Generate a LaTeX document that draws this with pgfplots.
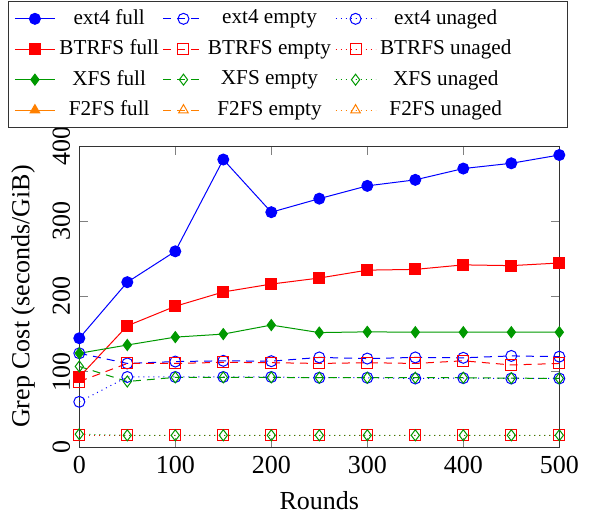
\documentclass[border=0pt]{standalone}
\usepackage{fontspec}
\setmainfont{Liberation Serif}
\usepackage{pgfplots}
\pgfplotsset{compat=1.18}
\definecolor{cblue}{rgb}{0,0,1}
\definecolor{cred}{rgb}{1,0,0}
\definecolor{cgreen}{rgb}{0,0.6,0}
\definecolor{corange}{rgb}{1,0.5,0}
\begin{document}
\fontsize{13}{15.5}\selectfont
\begin{tikzpicture}
\begin{axis}[
  scale only axis, width=240pt, height=150.5pt,
  xmin=0, xmax=500, ymin=0, ymax=400,
  xtick={0,100,...,500}, ytick={0,100,...,400},
  clip=false,
  /pgf/number format/assume math mode=true,
  yticklabel style={rotate=90, anchor=south},
  tick style={gray, thin},
  axis line style={black!80},
  xlabel={Rounds}, ylabel={Grep Cost (seconds/GiB)},
  legend columns=3,
  legend cell align=center,
  legend image code/.code={\draw[mark repeat=2,mark phase=2] plot coordinates {(0pt,0pt)(10pt,0pt)(20pt,0pt)};},
  legend style={font=\fontsize{10.6}{12.7}\selectfont, row sep=1.8pt, at={(rel axis cs:-0.1485,1.06)}, anchor=south west, draw=black!80},
  every axis plot/.append style={mark size=2.75pt, line width=0.5pt},
  dsh/.style={dash pattern=on 4pt off 3pt},
  dot/.style={dash pattern=on 0.5pt off 2pt},
]
% ext4
\addplot[cblue, mark=*] coordinates {(0,144.5)(50,219)(100,260)(150,382)(200,312)(250,330)(300,347)(350,355)(400,370)(450,377)(500,388)};
\addlegendentry{ext4 full}
\addplot[cblue, dsh, mark=o, mark options={solid}] coordinates {(0,124.5)(50,111)(100,113.5)(150,114.5)(200,114)(250,119)(300,117.5)(350,119)(400,118.5)(450,121)(500,120)};
\addlegendentry{ext4 empty}
\addplot[cblue, dot, mark=o, mark options={solid}] coordinates {(0,60)(50,93)(100,93)(150,93)(200,93)(250,92)(300,92)(350,91)(400,91.5)(450,91)(500,91)};
\addlegendentry{ext4 unaged\kern23pt}
% BTRFS
\addplot[cred, mark=square*] coordinates {(0,93)(50,161)(100,187)(150,206)(200,216.5)(250,224.5)(300,235)(350,236)(400,242)(450,241)(500,244.5)};
\addlegendentry{BTRFS full}
\addplot[cred, dsh, mark=square, mark options={solid}] coordinates {(0,87)(50,111)(100,111)(150,112.5)(200,112)(250,111)(300,112)(350,111)(400,114.5)(450,109)(500,111)};
\addlegendentry{BTRFS empty}
\addplot[cred, dot, mark=square, mark options={solid}] coordinates {(0,15.5)(50,15.5)(100,15.5)(150,15.5)(200,15.5)(250,15.5)(300,15.5)(350,15.5)(400,15.5)(450,15.5)(500,15.5)};
\addlegendentry{BTRFS unaged\kern23pt}
% XFS
\addplot[cgreen, mark=diamond*] coordinates {(0,124.5)(50,135.5)(100,146)(150,150)(200,162)(250,152)(300,153)(350,152.5)(400,152.5)(450,152.5)(500,152.5)};
\addlegendentry{XFS full}
\addplot[cgreen, dsh, mark=diamond, mark options={solid}] coordinates {(0,107)(50,87)(100,92.5)(150,92.5)(200,92.5)(250,92)(300,92)(350,92)(400,92)(450,91.5)(500,91)};
\addlegendentry{XFS empty}
\addplot[cgreen, dot, mark=diamond, mark options={solid}] coordinates {(0,17)(50,15.5)(100,15.5)(150,15.5)(200,15.5)(250,15.5)(300,15.5)(350,15.5)(400,15.5)(450,15.5)(500,15.5)};
\addlegendentry{XFS unaged\kern23pt}
% F2FS (legend only)
\addlegendimage{corange, mark=triangle*, mark size=2.75pt, line width=0.5pt}
\addlegendentry{F2FS full}
\addlegendimage{corange, dash pattern=on 4pt off 3pt, mark=triangle, mark options={solid}, mark size=2.75pt, line width=0.5pt}
\addlegendentry{F2FS empty}
\addlegendimage{corange, dash pattern=on 0.5pt off 2pt, mark=triangle, mark options={solid}, mark size=2.75pt, line width=0.5pt}
\addlegendentry{F2FS unaged\kern23pt}
% bounding box to match reference frame
\path (rel axis cs:-0.1652,-0.2425) (rel axis cs:1.0619,1.485);
\end{axis}
\end{tikzpicture}
\end{document}
